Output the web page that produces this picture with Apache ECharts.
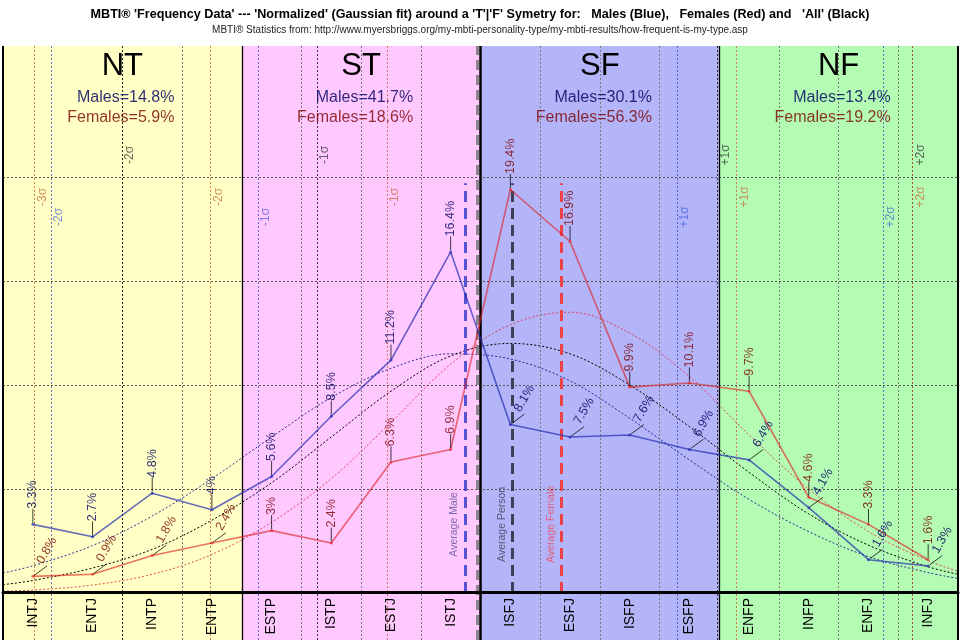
<!DOCTYPE html>
<html><head><meta charset="utf-8">
<script src="https://cdn.jsdelivr.net/npm/echarts@6/dist/echarts.min.js"></script>
<style>html,body{margin:0;padding:0;background:#fff}#c{width:960px;height:640px}</style>
</head><body><div id="c"></div>
<script>
// ---------------- data ----------------
const categories = ['INTJ','ENTJ','INTP','ENTP','ESTP','ISTP','ESTJ','ISTJ','ISFJ','ESFJ','ISFP','ESFP','ENFP','INFP','ENFJ','INFJ'];
const maleValues   = [3.3,2.7,4.8,4.0,5.6,8.5,11.2,16.4,8.1,7.5,7.6,6.9,6.4,4.1,1.6,1.3];
const femaleValues = [0.8,0.9,1.8,2.4,3.0,2.4,6.3,6.9,19.4,16.9,9.9,10.1,9.7,4.6,3.3,1.6];

// Gaussian-fit curves (category position -> %)
const curveX    = [-0.5,0,1,2,3,4,5,6,7,8,9,10,11,12,13,14,15,15.5];
const allFit    = [0.40,0.60,1.20,2.10,3.50,5.30,7.50,9.70,11.40,12.00,11.50,10.00,8.00,5.80,3.80,2.30,1.26,0.90];
const maleFit   = [0.96,1.31,2.28,3.70,5.50,7.50,9.40,10.80,11.50,11.25,10.20,8.40,6.40,4.50,2.95,1.75,0.98,0.70];
const femaleFit = [0.09,0.14,0.38,0.90,1.85,3.40,5.50,8.20,11.00,12.90,13.50,12.50,10.40,7.60,5.00,2.95,1.55,1.05];

// temperament groups
const regionNames   = ['NT','ST','SF','NF'];
const regionMales   = [14.8,41.7,30.1,13.4];
const regionFemales = [5.9,18.6,56.3,19.2];

// sigma / average markers (category position)
const sigmaLabels    = ['-3σ','-2σ','-1σ','+1σ','+2σ'];
const femaleSigmaPos = [0.03,2.98,5.93,11.79,14.74];
const maleSigmaPos   = [null,0.30,3.77,10.79,14.24];
const allSigmaPos    = [null,1.49,4.76,11.47,14.74];
const avgNames = ['Average Male','Average Person','Average Female'];
const avgPos   = [7.25,8.04,8.86];

// ---------------- styles ----------------
const Y_MIN = -2.26, Y_MAX = 26.3;
const SANS = "'Liberation Sans', Arial, sans-serif";
const regionColors = ['#FFFFC6','#FFC8FF','#B4B4F8','#B4FCB4'];
const MALE_LINE = 'rgba(30,40,175,0.68)';
const FEMALE_LINE = 'rgba(225,30,30,0.62)';
const MALE_TXT = 'rgba(0,0,95,0.82)';
const FEMALE_TXT = 'rgba(120,0,0,0.8)';
const sigmaStyle = {
  all:    {color:'rgba(0,0,0,0.75)',     label:'rgba(40,40,40,0.7)',   y:21.06},
  female: {color:'rgba(200,90,40,0.75)', label:'rgba(200,100,40,0.7)', y:19.04},
  male:   {color:'rgba(40,60,200,0.7)',  label:'rgba(40,70,210,0.6)',  y:18.08}
};
const avgStyle = [
  {color:'rgba(70,70,205,0.9)',  label:'rgba(100,90,160,0.85)'},
  {color:'rgba(50,50,70,0.9)',   label:'rgba(70,70,100,0.85)'},
  {color:'rgba(240,60,60,0.95)', label:'rgba(230,80,100,0.85)'}
];

// ---------------- build ----------------
const chart = echarts.init(document.getElementById('c'));

const bgAreas = regionNames.map((n, r) => [
  {xAxis: 4*r - 0.5, itemStyle: {color: regionColors[r]}},
  {xAxis: 4*r + 3.5}
]);

const gridLines = [];
[5,10,15,20].forEach(v => gridLines.push({yAxis: v, lineStyle:{color:'#555', width:1, type:[2,2]}}));
for (let i = 2; i < categories.length; i++) {
  if (i % 4 === 0) continue;
  gridLines.push({xAxis: i - 0.5, lineStyle:{color:'#7a7a7a', width:1, type:[2,2]}});
}

const borderLines = [
  {xAxis:-0.5, lineStyle:{color:'#000', width:2, type:'solid'}},
  {xAxis:15.5, lineStyle:{color:'#000', width:2, type:'solid'}},
  {xAxis:3.5, lineStyle:{color:'#000', width:1.3, type:'solid'}},
  {xAxis:11.5, lineStyle:{color:'#000', width:1.3, type:'solid'}},
  {xAxis:7.44, lineStyle:{color:'rgba(120,120,120,0.85)', width:3, type:[10,5]}},
  {xAxis:7.5, lineStyle:{color:'#000', width:2.5, type:'solid'}}
];

// rotated labels: local offset [along text, across text]; across +ve = screen right
const sigmaLines = [], sigmaTexts = [];
[['all', allSigmaPos], ['female', femaleSigmaPos], ['male', maleSigmaPos]].forEach(([k, arr]) => {
  const st = sigmaStyle[k];
  arr.forEach((x, i) => {
    if (x === null) return;
    sigmaLines.push({xAxis: x, lineStyle:{color: st.color, width:1, type:[2,2]}});
    sigmaTexts.push({coord:[x, st.y], symbol:'rect', symbolSize:0,
      label:{show:true, formatter: sigmaLabels[i], rotate:90, position:'inside', align:'center', verticalAlign:'middle',
             offset:[0,8], color: st.label, fontSize:12, fontFamily: SANS}});
  });
});

const avgLines = [], avgTexts = [];
avgPos.forEach((x, i) => {
  avgLines.push([{coord:[x, 0], lineStyle:{color: avgStyle[i].color, width:3, type:[11,6]}}, {coord:[x, 19.7]}]);
  avgTexts.push({coord:[x, 3.3], symbol:'rect', symbolSize:0,
    label:{show:true, formatter: avgNames[i], rotate:90, position:'inside', align:'center', verticalAlign:'middle',
           offset:[0,-11], color: avgStyle[i].label, fontSize:10.5, fontFamily: SANS}});
});

const regionTexts = [];
regionNames.forEach((n, r) => {
  const cx = 4*r + 1.5;
  regionTexts.push({coord:[cx, 25.3], symbol:'rect', symbolSize:0,
    label:{show:true, formatter:n, position:'inside', align:'center', verticalAlign:'middle', color:'#000', fontSize:31, fontFamily:SANS}});
  regionTexts.push({coord:[cx, 23.8], symbol:'rect', symbolSize:0,
    label:{show:true, formatter:'Males=' + regionMales[r] + '%', position:'inside', align:'right', verticalAlign:'middle',
           offset:[52,0], color: MALE_TXT, fontSize:16, fontFamily:SANS}});
  regionTexts.push({coord:[cx, 22.85], symbol:'rect', symbolSize:0,
    label:{show:true, formatter:'Females=' + regionFemales[r] + '%', position:'inside', align:'right', verticalAlign:'middle',
           offset:[52,0], color: FEMALE_TXT, fontSize:16, fontFamily:SANS}});
});

function curve(vals, color, name) {
  return {type:'line', name, xAxisIndex:1, yAxisIndex:0, z:4, silent:true, smooth:0.35,
    showSymbol:false, symbol:'none', data: curveX.map((x, i) => [x, vals[i]]),
    lineStyle:{color, width:1, type:[2,2]}};
}

function dataSeries(name, values, lineColor, txtColor, isAngled, z) {
  return {
    type:'line', name, xAxisIndex:0, yAxisIndex:0, z, silent:true,
    data: values.map((v, i) => ({value: v, label: {rotate: isAngled(i) ? 60 : 90}})),
    symbol:'circle', symbolSize:3, showAllSymbol:true,
    lineStyle:{color: lineColor, width:1.6},
    itemStyle:{color: lineColor},
    label:{show:true, position:'top', distance:0, align:'left', verticalAlign:'middle', rotate:90,
           formatter: p => p.value + '%', color: txtColor, fontSize:12.5, fontFamily:SANS},
    // label-local shift along the text direction, leaving room for the leader line
    labelLayout: {dx:14, dy:0},
    labelLine:{show:true, lineStyle:{color:'rgba(0,0,0,0.75)', width:1}}
  };
}

const option = {
  animation:false,
  backgroundColor:'#fff',
  title:{
    text:"MBTI® 'Frequency Data' --- 'Normalized' (Gaussian fit) around a 'T'|'F' Symetry for:   Males (Blue),   Females (Red) and   'All' (Black)",
    subtext:'MBTI® Statistics from: http://www.myersbriggs.org/my-mbti-personality-type/my-mbti-results/how-frequent-is-my-type.asp',
    left:'center', top:8, itemGap:4, padding:0,
    textStyle:{fontFamily:SANS, fontSize:12.6, fontWeight:'bold', color:'#000'},
    subtextStyle:{fontFamily:SANS, fontSize:10, color:'#222'}
  },
  grid:{left:3, right:2, top:46, bottom:0, outerBoundsMode:'none'},
  xAxis:[
    {type:'category', data:categories, boundaryGap:true, position:'bottom', offset:-48, z:10,
     axisLine:{show:true, onZero:false, lineStyle:{color:'#000', width:3}},
     axisTick:{show:false}, splitLine:{show:false},
     axisLabel:{show:true, rotate:90, fontSize:14, color:'#000', fontFamily:SANS, margin:6, interval:0}},
    {type:'value', min:-0.5, max:15.5, show:false, position:'top'}
  ],
  yAxis:{type:'value', min:Y_MIN, max:Y_MAX, show:false},
  series:[
    {type:'line', xAxisIndex:1, data:[], z:1, silent:true,
     markArea:{silent:true, data:bgAreas}},
    {type:'line', xAxisIndex:1, data:[], z:2, silent:true,
     markLine:{silent:true, symbol:['none','none'], label:{show:false}, data:gridLines}},
    {type:'line', xAxisIndex:1, data:[], z:2, silent:true,
     markLine:{silent:true, symbol:['none','none'], label:{show:false}, data:sigmaLines},
     markPoint:{silent:true, data:sigmaTexts}},
    {type:'line', xAxisIndex:1, data:[], z:3, silent:true,
     markLine:{silent:true, symbol:['none','none'], label:{show:false}, data:borderLines}},
    curve(maleFit, 'rgba(25,25,140,0.9)', 'Male fit'),
    curve(allFit, '#000', 'All fit'),
    curve(femaleFit, 'rgba(225,45,70,0.85)', 'Female fit'),
    {type:'line', xAxisIndex:1, data:[], z:4, silent:true,
     markLine:{silent:true, symbol:['none','none'], label:{show:false}, data:avgLines},
     markPoint:{silent:true, data:avgTexts}},
    dataSeries('Females', femaleValues, FEMALE_LINE, FEMALE_TXT, i => i < 4, 6),
    dataSeries('Males', maleValues, MALE_LINE, MALE_TXT, i => i >= 8, 7),
    {type:'line', xAxisIndex:1, data:[], z:8, silent:true,
     markPoint:{silent:true, data:regionTexts}}
  ]
};
chart.setOption(option);
</script>
</body></html>
